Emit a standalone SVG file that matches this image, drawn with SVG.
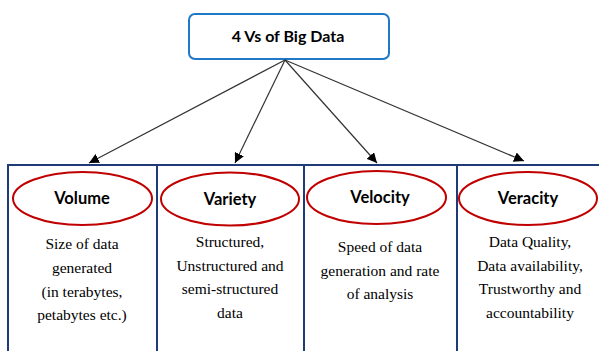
<svg xmlns="http://www.w3.org/2000/svg" width="599" height="351" viewBox="0 0 599 351">
<defs>
<marker id="ah" viewBox="0 0 10 10" refX="10" refY="5" markerWidth="10" markerHeight="10" markerUnits="userSpaceOnUse" orient="auto">
<path d="M0,0 L10,5 L0,10 z" fill="#000"/>
</marker>
</defs>
<style>
.title{font-family:Lato,"Open Sans",sans-serif;font-weight:bold;font-size:16px;fill:#000;text-anchor:middle}
.head{font-family:Lato,"Open Sans",sans-serif;font-weight:bold;font-size:16.5px;fill:#000;text-anchor:middle}
.body{font-size:15.5px;fill:#000;text-anchor:middle}
.ell{fill:#fff;stroke:#c00000;stroke-width:2}
.col{fill:none;stroke:#1f3a78;stroke-width:2}
.con{stroke:#333;stroke-width:1.2;fill:none;marker-end:url(#ah)}
</style>
<rect width="599" height="351" fill="#fff"/>
<g id="root">
<rect x="189" y="14" width="200" height="45" rx="6" fill="#fff" stroke="#1f78c8" stroke-width="2"/>
<text class="title" x="288" y="42">4 Vs of Big Data</text>
</g>
<g id="frame">
<path class="col" d="M8,351 V165 H599 M157,165 V351 M304,165 V351 M457,165 V351"/>
</g>
<g id="connectors">
<line class="con" x1="285" y1="60" x2="89" y2="163"/>
<line class="con" x1="285" y1="60" x2="235" y2="163"/>
<line class="con" x1="285" y1="60" x2="377" y2="163"/>
<line class="con" x1="285" y1="60" x2="524" y2="161"/>
</g>
<g id="volume">
<ellipse class="ell" cx="82.5" cy="198.5" rx="69.5" ry="26.5"/>
<text class="head" x="82" y="204">Volume</text>
<g font-family="Liberation Serif, serif">
<text class="body" x="82" y="249">Size of data</text>
<text class="body" x="82" y="273">generated</text>
<text class="body" x="82" y="297">(in terabytes,</text>
<text class="body" x="82" y="320">petabytes etc.)</text>
</g>
</g>
<g id="variety">
<ellipse class="ell" cx="230" cy="199" rx="69" ry="26.5"/>
<text class="head" x="230" y="205">Variety</text>
<g font-family="Liberation Serif, serif">
<text class="body" x="230" y="247">Structured,</text>
<text class="body" x="230" y="271">Unstructured and</text>
<text class="body" x="230" y="294">semi-structured</text>
<text class="body" x="230" y="318">data</text>
</g>
</g>
<g id="velocity">
<ellipse class="ell" cx="376.5" cy="197.5" rx="69.5" ry="26.5"/>
<text class="head" x="380" y="203">Velocity</text>
<g font-family="Liberation Serif, serif">
<text class="body" x="380" y="252">Speed of data</text>
<text class="body" x="380" y="276">generation and rate</text>
<text class="body" x="380" y="299">of analysis</text>
</g>
</g>
<g id="veracity">
<ellipse class="ell" cx="528" cy="198.5" rx="69" ry="26.5"/>
<text class="head" x="528" y="204">Veracity</text>
<g font-family="Liberation Serif, serif">
<text class="body" x="530" y="247">Data Quality,</text>
<text class="body" x="530" y="271">Data availability,</text>
<text class="body" x="530" y="294">Trustworthy and</text>
<text class="body" x="530" y="318">accountability</text>
</g>
</g>
</svg>
